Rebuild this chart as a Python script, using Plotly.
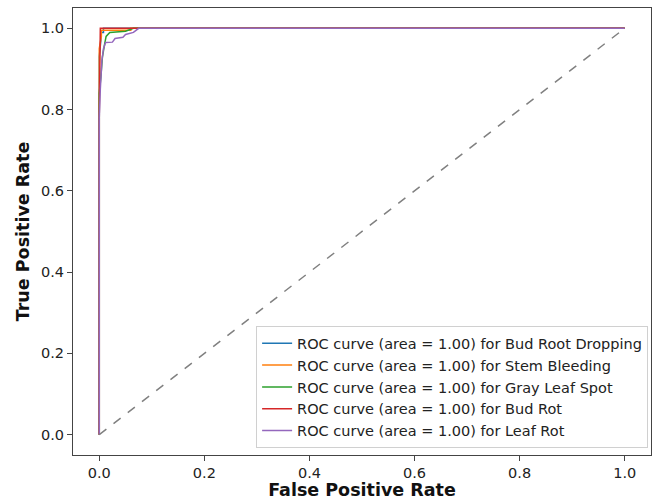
import plotly.graph_objects as go

class_names = ["Bud Root Dropping", "Stem Bleeding", "Gray Leaf Spot", "Bud Rot", "Leaf Rot"]
aucs = [1.00, 1.00, 1.00, 1.00, 1.00]
colors = ["#1f77b4", "#ff7f0e", "#2ca02c", "#d62728", "#9467bd"]

fpr_bud_root = [0, 0, 0.003, 0.003, 0.008, 0.008, 1]
tpr_bud_root = [0, 0.93, 0.97, 0.99, 0.99, 1.0, 1.0]

fpr_stem = [0, 0, 0.004, 0.004, 0.06, 0.06, 1]
tpr_stem = [0, 0.95, 0.98, 0.995, 0.995, 1.0, 1.0]

fpr_gray = [0, 0, 0.003, 0.006, 0.01, 0.013, 0.02, 0.05, 0.065, 1]
tpr_gray = [0, 0.84, 0.88, 0.93, 0.96, 0.98, 0.99, 0.993, 1.0, 1.0]

fpr_budrot = [0, 0, 0.002, 0.23, 1]
tpr_budrot = [0, 0.79, 1.0, 1.0, 1.0]

fpr_leaf = [0, 0, 0.002, 0.005, 0.008, 0.012, 0.025, 0.03, 0.045, 0.05, 0.065, 0.075, 1]
tpr_leaf = [0, 0.78, 0.85, 0.92, 0.95, 0.965, 0.966, 0.975, 0.978, 0.985, 0.99, 1.0, 1.0]

diag_x = [0, 1]
diag_y = [0, 1]

fprs = [fpr_bud_root, fpr_stem, fpr_gray, fpr_budrot, fpr_leaf]
tprs = [tpr_bud_root, tpr_stem, tpr_gray, tpr_budrot, tpr_leaf]

fig = go.Figure()
for name, auc, c, fx, ty in zip(class_names, aucs, colors, fprs, tprs):
    fig.add_trace(go.Scatter(
        x=fx, y=ty, mode="lines", line=dict(color=c, width=1.5),
        name=f"ROC curve (area = {auc:.2f}) for {name}"))

fig.add_trace(go.Scatter(x=diag_x, y=diag_y, mode="lines",
                         line=dict(color="gray", width=1.5, dash="dash"),
                         showlegend=False))

axis_common = dict(
    range=[-0.05, 1.05], showgrid=False, zeroline=False, automargin=False,
    showline=True, linecolor="#444444", linewidth=1, mirror=True,
    ticks="outside", ticklen=5, tickcolor="#444444",
    tickvals=[0, 0.2, 0.4, 0.6, 0.8, 1.0],
    ticktext=["0.0", "0.2", "0.4", "0.6", "0.8", "1.0"],
    tickfont=dict(family="DejaVu Sans", size=14.5, color="#222222"),
)

fig.update_layout(
    width=666, height=500,
    margin=dict(l=73, r=15, t=8, b=45),
    plot_bgcolor="white", paper_bgcolor="white",
    xaxis=dict(**axis_common,
               title=dict(text="<b>False Positive Rate</b>", standoff=0,
                          font=dict(family="DejaVu Sans", size=17.5, color="#111111"))),
    yaxis=dict(**axis_common,
               title=dict(text="<b>True Positive Rate</b>", standoff=6,
                          font=dict(family="DejaVu Sans", size=17.5, color="#111111"))),
    legend=dict(x=0.995, y=0.015, xanchor="right", yanchor="bottom",
                bgcolor="rgba(255,255,255,0.8)", bordercolor="#d0d0d0", borderwidth=1,
                font=dict(family="DejaVu Sans", size=14.5, color="#222222"),
                tracegroupgap=0, itemwidth=30),
    showlegend=True,
)

fig.write_html("out.html", config={"displayModeBar": False},
               post_script="document.body.style.margin='0';")
